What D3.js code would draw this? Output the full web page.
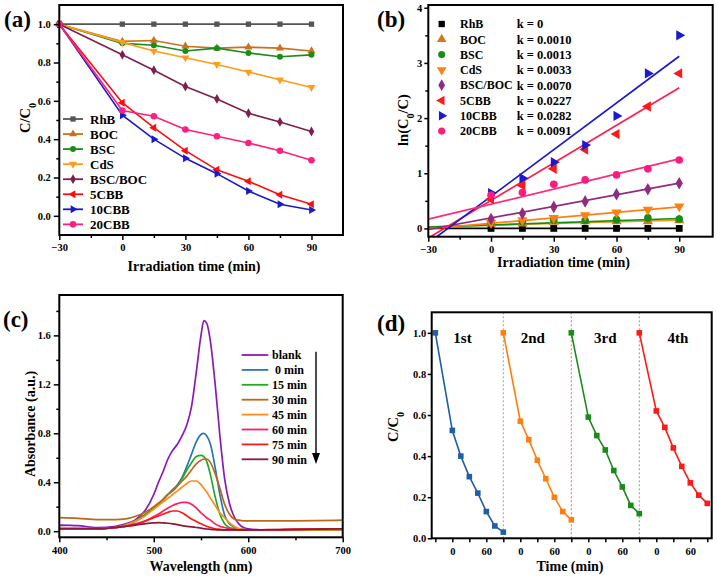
<!DOCTYPE html>
<html><head><meta charset="utf-8">
<script src="https://cdn.jsdelivr.net/npm/d3@7"></script>
<style>
body{margin:0;background:#fff}
svg{display:block}
text{font-family:"Liberation Serif","DejaVu Serif","Times New Roman",serif;font-weight:bold;fill:#000}
</style></head><body>
<svg id="c" width="717" height="578"></svg>
<script>
// ---------- DATA ----------
const times = [-30, 0, 15, 30, 45, 60, 75, 90];
const samples = ["RhB", "BOC", "BSC", "CdS", "BSC/BOC", "5CBB", "10CBB", "20CBB"];
// panel (a) C/C0
const rhbA    = [1.0, 1.0, 1.0, 1.0, 1.0, 1.0, 1.0, 1.0];
const bocA    = [1.0, 0.91, 0.915, 0.885, 0.875, 0.88, 0.875, 0.86];
const bscA    = [1.0, 0.90, 0.89, 0.86, 0.875, 0.85, 0.83, 0.84];
const cdsA    = [1.0, 0.905, 0.86, 0.825, 0.79, 0.75, 0.71, 0.67];
const bscbocA = [1.0, 0.84, 0.76, 0.675, 0.61, 0.535, 0.49, 0.44];
const cbb5A   = [1.0, 0.59, 0.46, 0.34, 0.24, 0.18, 0.11, 0.06];
const cbb10A  = [1.0, 0.525, 0.40, 0.30, 0.22, 0.13, 0.06, 0.03];
const cbb20A  = [1.0, 0.55, 0.52, 0.45, 0.415, 0.38, 0.34, 0.29];
// panel (b) ln(C0/C)
const timesB  = [0, 15, 30, 45, 60, 75, 90];
const rhbB    = [0, 0, 0, 0, 0, 0, 0];
const bocB    = [0.09, 0.09, 0.12, 0.13, 0.13, 0.13, 0.15];
const bscB    = [0.105, 0.12, 0.15, 0.14, 0.16, 0.19, 0.17];
const cdsB    = [0.10, 0.15, 0.19, 0.24, 0.29, 0.34, 0.40];
const bscbocB = [0.17, 0.27, 0.39, 0.49, 0.62, 0.71, 0.82];
const cbb5B   = [0.53, 0.78, 1.08, 1.43, 1.71, 2.21, 2.81];
const cbb10B  = [0.64, 0.91, 1.20, 1.51, 2.04, 2.81, 3.50];
const cbb20B  = [0.60, 0.65, 0.80, 0.88, 0.97, 1.08, 1.24];
const kVals   = [0, 0.0010, 0.0013, 0.0033, 0.0070, 0.0227, 0.0282, 0.0091];
const fitB0   = [0, 0.06, 0.063, 0.093, 0.19, 0.507, 0.582, 0.441]; // fit value at t = 0
// panel (c) absorbance spectra
const wl      = [400, 420, 440, 460, 470, 480, 490, 500, 505, 510, 515, 520, 525, 530, 535, 540, 545, 550, 553, 556, 560, 565, 570, 575, 580, 585, 590, 595, 600, 620, 650, 700];
const blank   = [0.05, 0.045, 0.03, 0.04, 0.06, 0.09, 0.16, 0.30, 0.40, 0.49, 0.59, 0.66, 0.71, 0.78, 0.87, 1.02, 1.30, 1.60, 1.72, 1.70, 1.55, 1.20, 0.78, 0.43, 0.23, 0.12, 0.06, 0.03, 0.02, 0.01, 0.01, 0.01];
const min0    = [0.03, 0.025, 0.02, 0.03, 0.05, 0.08, 0.13, 0.19, 0.22, 0.26, 0.30, 0.34, 0.38, 0.44, 0.53, 0.63, 0.73, 0.79, 0.80, 0.78, 0.71, 0.52, 0.30, 0.13, 0.06, 0.035, 0.02, 0.015, 0.01, 0.01, 0.01, 0.01];
const min15   = [0.02, 0.02, 0.02, 0.03, 0.05, 0.08, 0.13, 0.19, 0.22, 0.26, 0.30, 0.33, 0.37, 0.43, 0.50, 0.56, 0.61, 0.62, 0.61, 0.57, 0.46, 0.28, 0.14, 0.06, 0.03, 0.02, 0.01, 0.01, 0.01, 0.01, 0.01, 0.01];
const min30   = [0.11, 0.105, 0.095, 0.095, 0.10, 0.12, 0.15, 0.20, 0.23, 0.26, 0.30, 0.33, 0.37, 0.41, 0.45, 0.50, 0.55, 0.58, 0.59, 0.59, 0.56, 0.47, 0.35, 0.22, 0.14, 0.10, 0.09, 0.085, 0.085, 0.085, 0.085, 0.09];
const min45   = [0.03, 0.025, 0.02, 0.03, 0.05, 0.08, 0.12, 0.18, 0.21, 0.24, 0.27, 0.30, 0.33, 0.36, 0.39, 0.41, 0.41, 0.38, 0.35, 0.32, 0.27, 0.21, 0.15, 0.11, 0.07, 0.04, 0.02, 0.015, 0.01, 0.01, 0.01, 0.01];
const min60   = [0.02, 0.02, 0.02, 0.03, 0.04, 0.06, 0.08, 0.12, 0.14, 0.165, 0.19, 0.21, 0.225, 0.235, 0.235, 0.22, 0.19, 0.15, 0.13, 0.11, 0.09, 0.06, 0.04, 0.03, 0.02, 0.015, 0.01, 0.01, 0.01, 0.01, 0.015, 0.02];
const min75   = [0.02, 0.02, 0.02, 0.03, 0.04, 0.05, 0.08, 0.11, 0.125, 0.14, 0.155, 0.165, 0.165, 0.15, 0.125, 0.10, 0.08, 0.06, 0.05, 0.04, 0.03, 0.02, 0.015, 0.01, 0.01, 0.01, 0.01, 0.01, 0.01, 0.01, 0.015, 0.02];
const min90   = [0.02, 0.02, 0.02, 0.03, 0.04, 0.05, 0.06, 0.068, 0.07, 0.068, 0.065, 0.06, 0.053, 0.045, 0.04, 0.035, 0.03, 0.025, 0.02, 0.018, 0.015, 0.012, 0.01, 0.01, 0.01, 0.01, 0.01, 0.01, 0.01, 0.012, 0.015, 0.02];
const specLabels = ["blank", " 0 min", "15 min", "30 min", "45 min", "60 min", "75 min", "90 min"];
// panel (d) recycling
const cycleLabels = ["1st", "2nd", "3rd", "4th"];
const cycle1 = [1.0, 0.525, 0.40, 0.30, 0.22, 0.13, 0.06, 0.03];
const cycle2 = [1.0, 0.57, 0.48, 0.38, 0.29, 0.20, 0.13, 0.09];
const cycle3 = [1.0, 0.59, 0.50, 0.43, 0.33, 0.25, 0.16, 0.12];
const cycle4 = [1.0, 0.62, 0.54, 0.44, 0.35, 0.27, 0.21, 0.17];
const cycleLabelX = [18, 142, 270, 398];

// ---------- STYLE ----------
const colA = ["#555555", "#c8711e", "#198c19", "#ff9d1a", "#7f1f4f", "#ff0d0d", "#1a1acc", "#ff1f7f"];
const colB = ["#000000", "#d4781e", "#159015", "#ff7f10", "#8e2c80", "#ff1a1a", "#1a1ad0", "#ff1a80"];
const colBLine = ["#000000", "#e8a020", "#159015", "#ff7f10", "#8e2c80", "#ff1f4f", "#1a1ad0", "#ff2a7a"];
const colC = ["#8a1ab8", "#2a77b4", "#22aa22", "#c0661a", "#ff8c1a", "#ff2060", "#ff1a1a", "#8b1a3a"];
const colD = ["#1f5fa8", "#ff7f0e", "#1a8a1a", "#ff1a1a"];
const sepCol = ["#9aa0c8", "#e07070", "#999999"];
const symType = [d3.symbolSquare, d3.symbolTriangle, d3.symbolCircle, d3.symbolTriangle, d3.symbolDiamond, d3.symbolTriangle, d3.symbolTriangle, d3.symbolCircle];
const symRot = [0, 0, 0, 180, 0, -90, 90, 0];
const FONT = '"Liberation Serif","DejaVu Serif",serif';

const svg = d3.select("#c");

function frame(g, x, y) {
  g.append("rect").attr("x", x.range()[0]).attr("y", y.range()[1])
    .attr("width", x.range()[1] - x.range()[0]).attr("height", y.range()[0] - y.range()[1])
    .attr("fill", "none").attr("stroke", "#000").attr("stroke-width", 2);
}
function axes(g, x, y, o) {
  const fs = o.fs || 10.5;
  const gxm = g.append("g").attr("transform", `translate(0,${y.range()[0]})`)
    .call(d3.axisBottom(x).tickValues(o.xminor).tickSize(3).tickFormat(""));
  const gx = g.append("g").attr("transform", `translate(0,${y.range()[0]})`)
    .call(d3.axisBottom(x).tickValues(o.xt).tickSize(o.xs || 5).tickPadding(o.xp || 4).tickFormat(o.xf));
  const gym = g.append("g").attr("transform", `translate(${x.range()[0]},0)`)
    .call(d3.axisLeft(y).tickValues(o.yminor).tickSize(3).tickFormat(""));
  const gy = g.append("g").attr("transform", `translate(${x.range()[0]},0)`)
    .call(d3.axisLeft(y).tickValues(o.yt).tickSize(o.ys || 5.5).tickPadding(o.yp || 3).tickFormat(o.yf));
  [gxm, gx, gym, gy].forEach(a => {
    a.attr("font-family", FONT);
    a.select(".domain").remove();
    a.selectAll("line").attr("stroke", "#000").attr("stroke-width", 1.5);
    a.selectAll("text").attr("font-size", fs).attr("font-family", FONT).attr("font-weight", "bold").attr("fill", "#000");
  });
}
function title(g, txt, x, y, rot, size, parts) {
  const t = g.append("text").attr("font-size", size || 14).attr("text-anchor", "middle")
    .attr("transform", `translate(${x},${y})` + (rot ? " rotate(-90)" : "")).attr("dy", "0.35em");
  if (parts) {
    parts.forEach(p => {
      const s = t.append("tspan").text(p[0]);
      if (p[1]) s.attr("font-size", size * 0.7).attr("baseline-shift", "sub");
    });
  } else t.text(txt);
}
function panelLabel(txt, x, y) {
  svg.append("text").attr("x", x).attr("y", y).attr("font-size", 23).text(txt);
}
function sym(i, size) {
  return d3.symbol().type(symType[i]).size(size)();
}

// ---------- PANEL (a) ----------
(function () {
  const g = svg.append("g");
  const x = d3.scaleLinear().domain([-30, 105]).range([59.3, 343]);
  const y = d3.scaleLinear().domain([-0.1, 1.1]).range([235, 5]);
  const series = [rhbA, bocA, bscA, cdsA, bscbocA, cbb5A, cbb10A, cbb20A];
  const line = d3.line().x((d, i) => x(times[i])).y(d => y(d));
  series.forEach((s, k) => {
    g.append("path").attr("d", line(s)).attr("fill", "none").attr("stroke", colA[k]).attr("stroke-width", 1.6);
    g.selectAll(null).data(s).join("path")
      .attr("transform", (d, i) => `translate(${x(times[i])},${y(d)}) rotate(${symRot[k]})`)
      .attr("d", sym(k, k === 7 ? 34 : 28)).attr("fill", colA[k]);
  });
  frame(g, x, y);
  axes(g, x, y, {
    xt: [-30, 0, 30, 60, 90], xminor: [-15, 15, 45, 75], xf: d3.format("d"),
    yt: [0, 0.2, 0.4, 0.6, 0.8, 1.0], yminor: [0.1, 0.3, 0.5, 0.7, 0.9], yf: d3.format(".1f")
  });
  samples.forEach((n, k) => {
    const yy = 119 + 15.05 * k;
    g.append("line").attr("x1", 63).attr("x2", 83).attr("y1", yy).attr("y2", yy).attr("stroke", colA[k]).attr("stroke-width", 1.8);
    g.append("path").attr("transform", `translate(73,${yy}) rotate(${symRot[k]})`).attr("d", sym(k, k === 7 ? 34 : 28)).attr("fill", colA[k]);
    g.append("text").attr("x", 90).attr("y", yy).attr("dy", "0.35em").attr("font-size", 13).text(n);
  });
  title(g, "Irradiation time (min)", 194, 266, false, 14);
  title(g, null, 25, 118, true, 14.5, [["C/C"], ["0", true]]);
  panelLabel("(a)", 4, 27);
})();

// ---------- PANEL (b) ----------
(function () {
  const g = svg.append("g");
  const x = d3.scaleLinear().domain([-30, 106]).range([428.3, 712.7]);
  const y = d3.scaleLinear().domain([-0.15, 4.05]).range([236.7, 5]);
  svg.append("defs").append("clipPath").attr("id", "clipb").append("rect")
    .attr("x", 428.3).attr("y", 5).attr("width", 712.7 - 428.3).attr("height", 231.7);
  const series = [rhbB, bocB, bscB, cdsB, bscbocB, cbb5B, cbb10B, cbb20B];
  const fits = g.append("g").attr("clip-path", "url(#clipb)");
  series.forEach((s, k) => {
    const f = t => fitB0[k] + kVals[k] * t;
    fits.append("line").attr("x1", x(-30)).attr("x2", x(90)).attr("y1", y(f(-30))).attr("y2", y(f(90)))
      .attr("stroke", colBLine[k]).attr("stroke-width", 1.7);
  });
  series.forEach((s, k) => {
    g.selectAll(null).data(s).join("path")
      .attr("transform", (d, i) => `translate(${x(timesB[i])},${y(d)}) rotate(${symRot[k]})`)
      .attr("d", sym(k, 46)).attr("fill", colB[k]);
  });
  frame(g, x, y);
  axes(g, x, y, {
    xt: [-30, 0, 30, 60, 90], xminor: [-15, 15, 45, 75], xf: d3.format("d"),
    yt: [0, 1, 2, 3, 4], yminor: [0.5, 1.5, 2.5, 3.5], yf: d3.format("d"), ys: 4, yp: 2
  });
  samples.forEach((n, k) => {
    const yy = 24 + 15.3 * k;
    g.append("path").attr("transform", `translate(441.7,${yy}) rotate(${symRot[k]})`).attr("d", sym(k, 40)).attr("fill", colB[k]);
    g.append("text").attr("x", 460).attr("y", yy).attr("dy", "0.35em").attr("font-size", 12).text(n);
    g.append("text").attr("x", 516.7).attr("y", yy).attr("dy", "0.35em").attr("font-size", 12.5)
      .text(kVals[k] === 0 ? "k = 0" : "k = " + kVals[k].toFixed(4));
  });
  title(g, "Irradiation time (min)", 563.5, 262, false, 14);
  title(g, null, 403, 120, true, 14.5, [["ln(C"], ["0", true], ["/C)"]]);
  panelLabel("(b)", 377, 27);
})();

// ---------- PANEL (c) ----------
(function () {
  const g = svg.append("g");
  const x = d3.scaleLinear().domain([400, 700]).range([59.3, 342.7]);
  const y = d3.scaleLinear().domain([-0.05, 1.93]).range([537.3, 295]);
  const specs = [blank, min0, min15, min30, min45, min60, min75, min90];
  const line = d3.line().x((d, i) => x(wl[i])).y(d => y(d)).curve(d3.curveMonotoneX);
  specs.forEach((s, k) => {
    g.append("path").attr("d", line(s)).attr("fill", "none").attr("stroke", colC[k]).attr("stroke-width", 1.7);
  });
  frame(g, x, y);
  axes(g, x, y, {
    xt: [400, 500, 600, 700], xminor: [450, 550, 650], xf: d3.format("d"),
    yt: [0, 0.4, 0.8, 1.2, 1.6], yminor: [0.2, 0.6, 1.0, 1.4, 1.8], yf: d3.format(".1f")
  });
  specLabels.forEach((n, k) => {
    const yy = 355 + 14.9 * k;
    g.append("line").attr("x1", 241.7).attr("x2", 268.3).attr("y1", yy).attr("y2", yy).attr("stroke", colC[k]).attr("stroke-width", 1.8);
    g.append("text").attr("x", 272).attr("y", yy).attr("dy", "0.35em").attr("font-size", 12).style("white-space", "pre").text(n);
  });
  g.append("line").attr("x1", 316).attr("x2", 316).attr("y1", 351.7).attr("y2", 455).attr("stroke", "#000").attr("stroke-width", 1.4);
  g.append("path").attr("d", "M312,453 L320,453 L316,464 Z").attr("fill", "#000");
  title(g, "Wavelength (nm)", 201, 566.5, false, 14);
  title(g, "Absorbance (a.u.)", 30, 424, true, 14);
  panelLabel("(c)", 3, 327);
})();

// ---------- PANEL (d) ----------
(function () {
  const g = svg.append("g");
  const x = d3.scaleLinear().domain([-36.4, 457.8]).range([431.7, 711.7]);
  const y = d3.scaleLinear().domain([0, 1.1]).range([538.3, 312.3]);
  const cycles = [cycle1, cycle2, cycle3, cycle4];
  [90, 210, 330].forEach((t, i) => {
    g.append("line").attr("x1", x(t)).attr("x2", x(t)).attr("y1", y(0)).attr("y2", y(1.1))
      .attr("stroke", sepCol[i]).attr("stroke-width", 1).attr("stroke-dasharray", "2,2");
  });
  const line = d3.line().x(d => x(d[0])).y(d => y(d[1]));
  cycles.forEach((c, k) => {
    const pts = c.map((v, i) => [times[i] + 120 * k, v]);
    g.append("path").attr("d", line(pts)).attr("fill", "none").attr("stroke", colD[k]).attr("stroke-width", 1.6);
    g.selectAll(null).data(pts).join("rect")
      .attr("x", d => x(d[0]) - 2.8).attr("y", d => y(d[1]) - 2.8).attr("width", 5.6).attr("height", 5.6).attr("fill", colD[k]);
    g.append("text").attr("x", x(cycleLabelX[k])).attr("y", y(0.975)).attr("dy", "0.35em")
      .attr("text-anchor", "middle").attr("font-size", 15).text(cycleLabels[k]);
  });
  frame(g, x, y);
  const tv = d3.range(-30, 451, 30);
  axes(g, x, y, {
    xt: tv, xminor: [], xf: v => { const m = ((v % 120) + 120) % 120; return m === 0 ? "0" : (m === 60 ? "60" : ""); },
    xs: 4, xp: 5,
    yt: [0, 0.2, 0.4, 0.6, 0.8, 1.0], yminor: [], yf: d3.format(".1f"), ys: 4, yp: 1.5
  });
  title(g, "Time (min)", 570, 566.5, false, 14);
  title(g, null, 393, 427, true, 14.5, [["C/C"], ["0", true]]);
  panelLabel("(d)", 377, 331);
})();
</script>
</body></html>
